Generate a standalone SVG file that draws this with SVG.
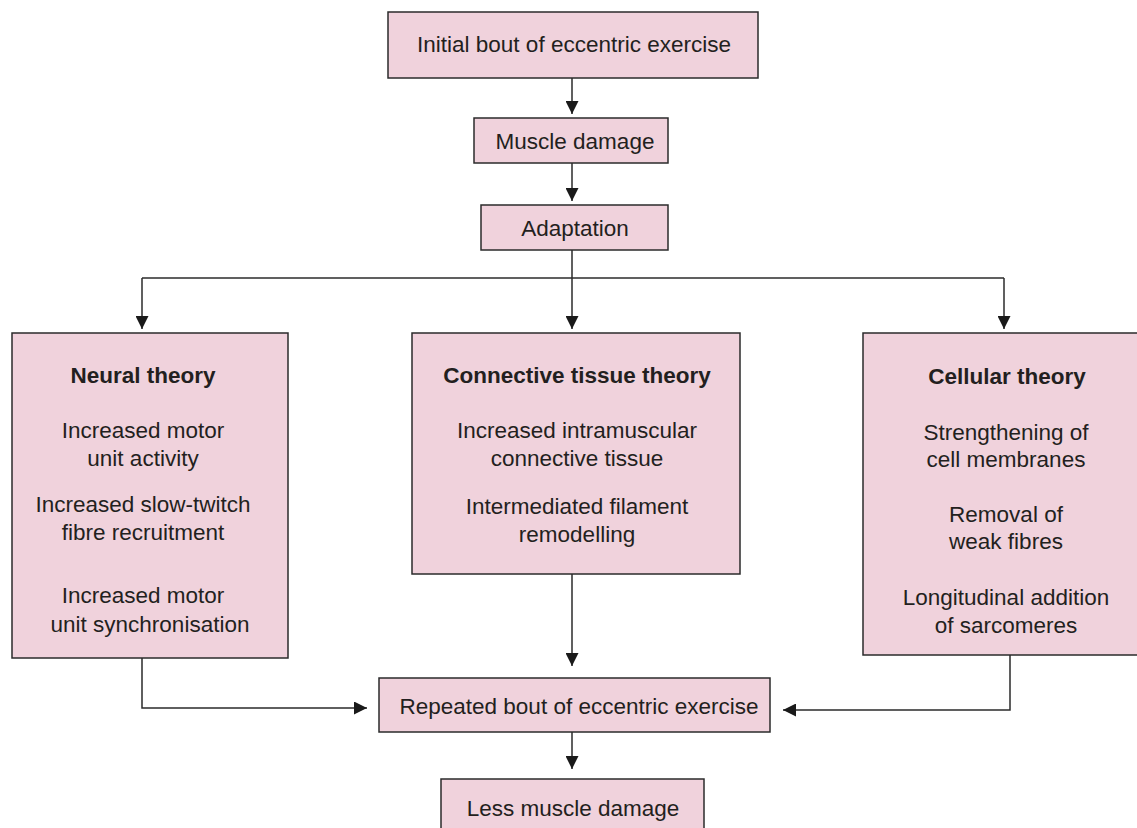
<svg xmlns="http://www.w3.org/2000/svg" width="1137" height="828" viewBox="0 0 1137 828">
<defs>
<style>
.box{fill:#f0d2dc;stroke:#2b2b2b;stroke-width:1.5}
text{font-family:"Liberation Sans",Arial,sans-serif;font-size:22.5px;fill:#231f20;text-anchor:middle}
.b{font-weight:bold}
.c{fill:none;stroke:#2b2b2b;stroke-width:1.5}
</style>
<marker id="ah" markerWidth="13" markerHeight="13" viewBox="0 0 12 12" refX="12" refY="6" orient="auto" markerUnits="userSpaceOnUse">
<path d="M0,0 L12,6 L0,12 Z" fill="#1a1a1a"/>
</marker>
</defs>
<rect width="1137" height="828" fill="#fff"/>
<g id="connectors">
<path class="c" d="M572,78 V114" marker-end="url(#ah)"/>
<path class="c" d="M572,163 V201" marker-end="url(#ah)"/>
<path class="c" d="M572,250 V329" marker-end="url(#ah)"/>
<path class="c" d="M142,278 H1004"/>
<path class="c" d="M142,278 V329" marker-end="url(#ah)"/>
<path class="c" d="M1004,278 V329" marker-end="url(#ah)"/>
<path class="c" d="M572,574 V666" marker-end="url(#ah)"/>
<path class="c" d="M142,658 V708 H367" marker-end="url(#ah)"/>
<path class="c" d="M1010,655 V710 H783" marker-end="url(#ah)"/>
<path class="c" d="M572,732 V769" marker-end="url(#ah)"/>
</g>
<g id="initial">
<rect class="box" x="388" y="12" width="370" height="66"/>
<text x="574" y="52">Initial bout of eccentric exercise</text>
</g>
<g id="muscle-damage">
<rect class="box" x="474" y="118" width="194" height="45"/>
<text x="575" y="149">Muscle damage</text>
</g>
<g id="adaptation">
<rect class="box" x="481" y="205" width="187" height="45"/>
<text x="575" y="236">Adaptation</text>
</g>
<g id="neural">
<rect class="box" x="12" y="333" width="276" height="325"/>
<text class="b" x="143" y="383">Neural theory</text>
<text x="143" y="438">Increased motor</text>
<text x="143" y="466">unit activity</text>
<text x="143" y="512">Increased slow-twitch</text>
<text x="143" y="540">fibre recruitment</text>
<text x="143" y="603">Increased motor</text>
<text x="150" y="632">unit synchronisation</text>
</g>
<g id="connective">
<rect class="box" x="412" y="333" width="328" height="241"/>
<text class="b" x="577" y="383">Connective tissue theory</text>
<text x="577" y="438">Increased intramuscular</text>
<text x="577" y="466">connective tissue</text>
<text x="577" y="514">Intermediated filament</text>
<text x="577" y="542">remodelling</text>
</g>
<g id="cellular">
<rect class="box" x="863" y="333" width="280" height="322"/>
<text class="b" x="1007" y="384">Cellular theory</text>
<text x="1006" y="440">Strengthening of</text>
<text x="1006" y="467">cell membranes</text>
<text x="1006" y="522">Removal of</text>
<text x="1006" y="549">weak fibres</text>
<text x="1006" y="605">Longitudinal addition</text>
<text x="1006" y="633">of sarcomeres</text>
</g>
<g id="repeated">
<rect class="box" x="379" y="678" width="391" height="54"/>
<text x="579" y="714">Repeated bout of eccentric exercise</text>
</g>
<g id="less-damage">
<rect class="box" x="441" y="779" width="263" height="60"/>
<text x="573" y="816">Less muscle damage</text>
</g>
</svg>
